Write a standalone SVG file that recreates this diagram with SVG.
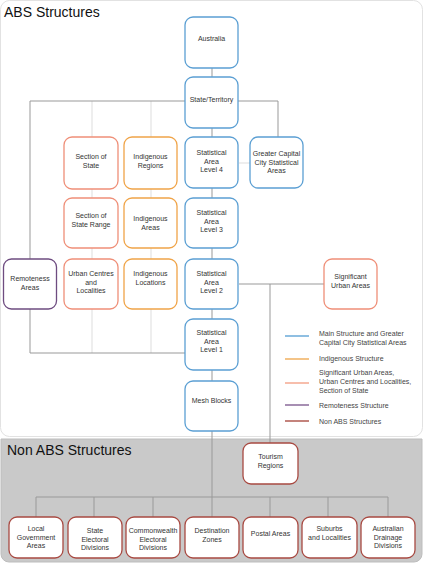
<svg xmlns="http://www.w3.org/2000/svg" width="424" height="566" viewBox="0 0 424 566">
<style>
.t{font-family:"Liberation Sans",Arial,sans-serif;font-size:7px;fill:#333;text-anchor:middle}
.lt{font-family:"Liberation Sans",Arial,sans-serif;font-size:7px;fill:#444}
.h{font-family:"Liberation Sans",Arial,sans-serif;font-size:14px;fill:#111}
.n rect{fill:#fff;stroke-width:1.3}
.b rect{stroke:#5b9fd3}
.o rect{stroke:#f0a448}
.s rect{stroke:#ef8f78}
.p rect{stroke:#6e4c80}
.r rect{stroke:#a84a42}
.c{fill:none;stroke:#999;stroke-width:1}
.cl{fill:none;stroke:#ddd;stroke-width:1}
</style>
<rect x="0.5" y="0.5" width="422" height="436" rx="9" fill="#fff" stroke="#e2e2e2"/>
<path d="M1,439 H422 V554 a8,8 0 0 1 -8,8 H9 a8,8 0 0 1 -8,-8 Z" fill="#c9c9c9" stroke="#bdbdbd"/>
<text class="h" x="4" y="17">ABS Structures</text>
<text class="h" x="7" y="455">Non ABS Structures</text>
<g id="connectors">
<path class="cl" d="M92,101 V353 M151,101 V353"/>
<path class="cl" d="M239,163 H250"/>
<path class="c" d="M212,67 V517"/>
<path class="c" d="M30,101 H185 M238,101 H278 V137"/>
<path class="c" d="M30,101 V259 M30,309 V353 H185"/>
<path class="c" d="M239,284 H324 M270,284 V443"/>
<path class="c" d="M36,497 H388 M36,497 V517 M94,497 V517 M153,497 V517 M270,497 V517 M328,497 V517 M388,497 V517"/>
</g>
<g id="australia" class="n b"><rect x="185" y="17" width="53" height="51" rx="8"/><text class="t" x="211.5" y="41">Australia</text></g>
<g id="state" class="n b"><rect x="185" y="77" width="53" height="51" rx="8"/><text class="t" x="211.5" y="101.5">State/Territory</text></g>
<g id="sa4" class="n b"><rect x="185" y="137" width="53" height="51" rx="8"/><text class="t" x="211.5" y="155">Statistical</text><text class="t" x="211.5" y="163.5">Area</text><text class="t" x="211.5" y="172">Level 4</text></g>
<g id="gccsa" class="n b"><rect x="250" y="137" width="53" height="51" rx="8"/><text class="t" x="276.5" y="156">Greater Capital</text><text class="t" x="276.5" y="164.5">City Statistical</text><text class="t" x="276.5" y="173">Areas</text></g>
<g id="sos" class="n s"><rect x="64" y="137" width="54" height="52" rx="8"/><text class="t" x="91" y="159">Section of</text><text class="t" x="91" y="167.5">State</text></g>
<g id="ir" class="n o"><rect x="124" y="137" width="53" height="52" rx="8"/><text class="t" x="150.5" y="159">Indigenous</text><text class="t" x="150.5" y="167.5">Regions</text></g>
<g id="sa3" class="n b"><rect x="185" y="198" width="53" height="50" rx="8"/><text class="t" x="211.5" y="215">Statistical</text><text class="t" x="211.5" y="223.5">Area</text><text class="t" x="211.5" y="232">Level 3</text></g>
<g id="sosr" class="n s"><rect x="64" y="198" width="54" height="50" rx="8"/><text class="t" x="91" y="218">Section of</text><text class="t" x="91" y="226.5">State Range</text></g>
<g id="ia" class="n o"><rect x="124" y="198" width="53" height="50" rx="8"/><text class="t" x="150.5" y="221">Indigenous</text><text class="t" x="150.5" y="229.5">Areas</text></g>
<g id="sa2" class="n b"><rect x="185" y="259" width="53" height="50" rx="8"/><text class="t" x="211.5" y="276">Statistical</text><text class="t" x="211.5" y="284.5">Area</text><text class="t" x="211.5" y="293">Level 2</text></g>
<g id="ucl" class="n s"><rect x="64" y="259" width="54" height="50" rx="8"/><text class="t" x="91" y="276">Urban Centres</text><text class="t" x="91" y="284.5">and</text><text class="t" x="91" y="293">Localities</text></g>
<g id="il" class="n o"><rect x="124" y="259" width="53" height="50" rx="8"/><text class="t" x="150.5" y="276">Indigenous</text><text class="t" x="150.5" y="284.5">Locations</text></g>
<g id="ra" class="n p"><rect x="3.5" y="259" width="53" height="50" rx="8"/><text class="t" x="30" y="281">Remoteness</text><text class="t" x="30" y="289.5">Areas</text></g>
<g id="sua" class="n s"><rect x="324" y="259" width="53" height="50" rx="8"/><text class="t" x="350.5" y="279">Significant</text><text class="t" x="350.5" y="287.5">Urban Areas</text></g>
<g id="sa1" class="n b"><rect x="185" y="319" width="53" height="51" rx="8"/><text class="t" x="211.5" y="335">Statistical</text><text class="t" x="211.5" y="343.5">Area</text><text class="t" x="211.5" y="352">Level 1</text></g>
<g id="mesh" class="n b"><rect x="185" y="381" width="53" height="50" rx="8"/><text class="t" x="211.5" y="403">Mesh Blocks</text></g>
<g id="tourism" class="n r"><rect x="243" y="443" width="55" height="41" rx="8"/><text class="t" x="270.5" y="459">Tourism</text><text class="t" x="270.5" y="467.5">Regions</text></g>
<g id="lga" class="n r"><rect x="9" y="517" width="54" height="41" rx="8"/><text class="t" x="36" y="531">Local</text><text class="t" x="36" y="539.5">Government</text><text class="t" x="36" y="548">Areas</text></g>
<g id="sed" class="n r"><rect x="68" y="517" width="54" height="41" rx="8"/><text class="t" x="95" y="533">State</text><text class="t" x="95" y="541.5">Electoral</text><text class="t" x="95" y="550">Divisions</text></g>
<g id="ced" class="n r"><rect x="126" y="517" width="54" height="41" rx="8"/><text class="t" x="153" y="533">Commonwealth</text><text class="t" x="153" y="541.5">Electoral</text><text class="t" x="153" y="550">Divisions</text></g>
<g id="dz" class="n r"><rect x="185" y="517" width="54" height="41" rx="8"/><text class="t" x="212" y="533">Destination</text><text class="t" x="212" y="541.5">Zones</text></g>
<g id="postal" class="n r"><rect x="243" y="517" width="55" height="41" rx="8"/><text class="t" x="270.5" y="535.5">Postal Areas</text></g>
<g id="suburbs" class="n r"><rect x="302" y="517" width="55" height="41" rx="8"/><text class="t" x="329.5" y="531">Suburbs</text><text class="t" x="329.5" y="539.5">and Localities</text></g>
<g id="drainage" class="n r"><rect x="361" y="517" width="54" height="41" rx="8"/><text class="t" x="388" y="531">Australian</text><text class="t" x="388" y="539.5">Drainage</text><text class="t" x="388" y="548">Divisions</text></g>
<g id="legend">
<path d="M285,336 H309" stroke="#6aaad8" stroke-width="1.5"/>
<path d="M285,359 H309" stroke="#f0b060" stroke-width="1.5"/>
<path d="M285,383 H309" stroke="#f4a890" stroke-width="1.5"/>
<path d="M285,405 H309" stroke="#8a6a9a" stroke-width="1.5"/>
<path d="M285,421 H309" stroke="#b05a50" stroke-width="1.5"/>
<text class="lt" x="319" y="336">Main Structure and Greater</text>
<text class="lt" x="319" y="345">Capital City Statistical Areas</text>
<text class="lt" x="319" y="361">Indigenous Structure</text>
<text class="lt" x="319" y="375">Significant Urban Areas,</text>
<text class="lt" x="319" y="384">Urban Centres and Localities,</text>
<text class="lt" x="319" y="393">Section of State</text>
<text class="lt" x="319" y="407.5">Remoteness Structure</text>
<text class="lt" x="319" y="423.5">Non ABS Structures</text>
</g>
</svg>
